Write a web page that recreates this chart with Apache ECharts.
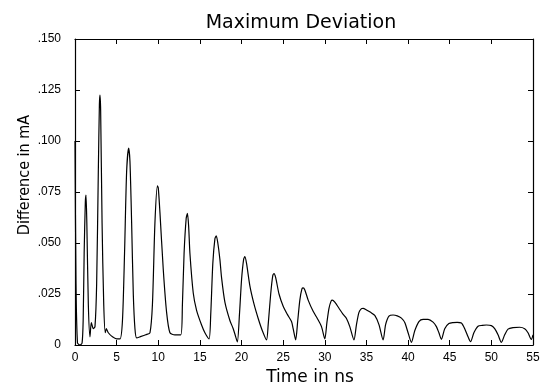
<!DOCTYPE html>
<html>
<head>
<meta charset="utf-8">
<script src="https://cdn.jsdelivr.net/npm/echarts@6/dist/echarts.min.js"></script>
<style>
  html, body { margin: 0; padding: 0; background: #fff; }
  #chart { width: 541px; height: 384px; }
</style>
</head>
<body>
<div id="chart"></div>
<script>
// time in ns
var times = [
  0, 0.12, 0.3, 0.6, 0.85, 0.98, 1.1, 1.24, 1.32, 1.42, 1.6, 1.8, 1.96, 2.2, 2.4, 2.6, 2.8, 2.93, 3.0, 3.08, 3.25, 3.45, 3.64, 3.75, 4.0, 4.5, 5.0, 5.4,
  5.7, 5.95, 6.2, 6.44, 6.6, 6.8, 7.0, 7.2, 7.4, 7.8, 8.5, 9.0,
  9.3, 9.6, 9.9, 10.0, 10.2, 10.6, 11.0, 11.4, 12.0, 12.7,
  12.9, 13.1, 13.35, 13.5, 13.65, 13.8, 14.2, 14.6, 15.2, 15.6, 16.1,
  16.3, 16.55, 16.8, 16.96, 17.15, 17.4, 17.6, 18.0, 18.6, 19.0, 19.3, 19.5,
  19.75, 20.0, 20.25, 20.4, 20.6, 21.0, 21.5, 22.0, 22.5, 23.0,
  23.2, 23.5, 23.75, 23.9, 24.1, 24.5, 25.0, 25.5, 26.0, 26.2, 26.5,
  26.75, 27.0, 27.25, 27.4, 27.6, 28.0, 28.6, 29.1, 29.6, 30.0,
  30.25, 30.5, 30.75, 30.9, 31.2, 31.7, 32.2, 32.6, 33.0, 33.5,
  33.8, 34.1, 34.4, 34.6, 35.0, 35.5, 36.0, 36.5, 37.0,
  37.3, 37.7, 38.2, 38.7, 39.2, 39.6, 40.0, 40.4,
  40.8, 41.3, 41.8, 42.4, 43.0, 43.4, 43.7, 44.0,
  44.4, 44.9, 45.4, 45.9, 46.4, 46.8, 47.2, 47.5,
  47.9, 48.4, 48.9, 49.4, 50.0, 50.4, 50.8, 51.2,
  51.6, 52.0, 52.6, 53.4, 54.0, 54.4, 54.8, 55.0
];
// difference in mA
var diffs = [
  0.10, 0.03, 0.001, 0, 0.001, 0.012, 0.045, 0.070, 0.0735, 0.06, 0.02, 0.004, 0.011, 0.008, 0.009, 0.03, 0.085, 0.118, 0.1225, 0.115, 0.06, 0.02, 0.006, 0.008, 0.006, 0.004, 0.003, 0.003,
  0.012, 0.045, 0.085, 0.0965, 0.09, 0.06, 0.025, 0.008, 0.0035, 0.004, 0.005, 0.006,
  0.02, 0.06, 0.078, 0.077, 0.065, 0.037, 0.016, 0.006, 0.005, 0.005,
  0.02, 0.045, 0.062, 0.0645, 0.058, 0.045, 0.0255, 0.017, 0.0098, 0.006, 0.003,
  0.015, 0.04, 0.052, 0.0535, 0.05, 0.042, 0.033, 0.021, 0.012, 0.008, 0.004, 0.0015,
  0.015, 0.032, 0.042, 0.0433, 0.04, 0.029, 0.02, 0.013, 0.007, 0.0025,
  0.01, 0.025, 0.034, 0.035, 0.033, 0.025, 0.019, 0.015, 0.0115, 0.008, 0.0025,
  0.012, 0.022, 0.0275, 0.028, 0.027, 0.022, 0.0165, 0.013, 0.009, 0.003,
  0.011, 0.018, 0.0215, 0.022, 0.021, 0.018, 0.015, 0.013, 0.009, 0.0025,
  0.01, 0.016, 0.0178, 0.018, 0.0172, 0.016, 0.0145, 0.01, 0.0025,
  0.01, 0.0142, 0.0147, 0.0143, 0.0132, 0.011, 0.006, 0.0013,
  0.007, 0.0115, 0.0126, 0.0126, 0.0112, 0.009, 0.006, 0.0028,
  0.008, 0.0105, 0.011, 0.0111, 0.0108, 0.008, 0.004, 0.0016,
  0.006, 0.0092, 0.0096, 0.0098, 0.0095, 0.008, 0.005, 0.0013,
  0.005, 0.0078, 0.0085, 0.0087, 0.008, 0.006, 0.0028, 0.005
];

var chartDom = document.getElementById('chart');
var myChart = echarts.init(chartDom, null, { renderer: 'canvas' });

var points = times.map(function (t, i) { return [t, diffs[i]]; });

function yLabel(v) {
  if (v === 0) return '0';
  return v.toFixed(3).replace(/^0/, '');
}

var tickFont = { fontFamily: 'Liberation Sans', fontSize: 12, color: '#000' };
var axisLineBlack = { show: true, onZero: false, lineStyle: { color: '#000', width: 1.2 } };
var tickIn = { show: true, inside: true, length: 5, lineStyle: { color: '#000' } };

var option = {
  animation: false,
  backgroundColor: '#fff',
  title: {
    text: 'Maximum Deviation',
    left: 296,
    top: 9,
    textAlign: 'center',
    textStyle: { fontFamily: 'DejaVu Sans', fontSize: 19, fontWeight: 'normal', color: '#000' }
  },
  grid: { left: 75, right: 8, top: 39, bottom: 39, outerBoundsMode: 'none', containLabel: false },
  xAxis: [
    {
      type: 'value', min: 0, max: 55, interval: 5,
      name: 'Time in ns', nameLocation: 'middle', nameGap: 24, nameMoveOverlap: false,
      nameTextStyle: { fontFamily: 'DejaVu Sans', fontSize: 17, color: '#000', padding: [0, 0, 0, 12] },
      axisLine: axisLineBlack,
      axisTick: tickIn,
      axisLabel: Object.assign({ margin: 7 }, tickFont),
      splitLine: { show: false }
    },
    {
      type: 'value', min: 0, max: 55, interval: 5, position: 'top',
      axisLine: axisLineBlack,
      axisTick: tickIn,
      axisLabel: { show: false },
      splitLine: { show: false }
    }
  ],
  yAxis: [
    {
      type: 'value', min: 0, max: 0.15, interval: 0.025,
      name: 'Difference in mA', nameLocation: 'middle', nameGap: 42, nameMoveOverlap: false,
      nameTextStyle: { fontFamily: 'DejaVu Sans Condensed, DejaVu Sans', fontSize: 16, color: '#000', padding: [0, 0, 0, 34] },
      axisLine: axisLineBlack,
      axisTick: tickIn,
      axisLabel: Object.assign({ margin: 14, formatter: yLabel }, tickFont),
      splitLine: { show: false }
    },
    {
      type: 'value', min: 0, max: 0.15, interval: 0.025, position: 'right',
      axisLine: axisLineBlack,
      axisTick: tickIn,
      axisLabel: { show: false },
      splitLine: { show: false }
    }
  ],
  series: [
    {
      type: 'line',
      data: points,
      showSymbol: false,
      smooth: 0.25,
      lineStyle: { color: '#000', width: 1.2 }
    }
  ]
};

option && myChart.setOption(option);
</script>
</body>
</html>
